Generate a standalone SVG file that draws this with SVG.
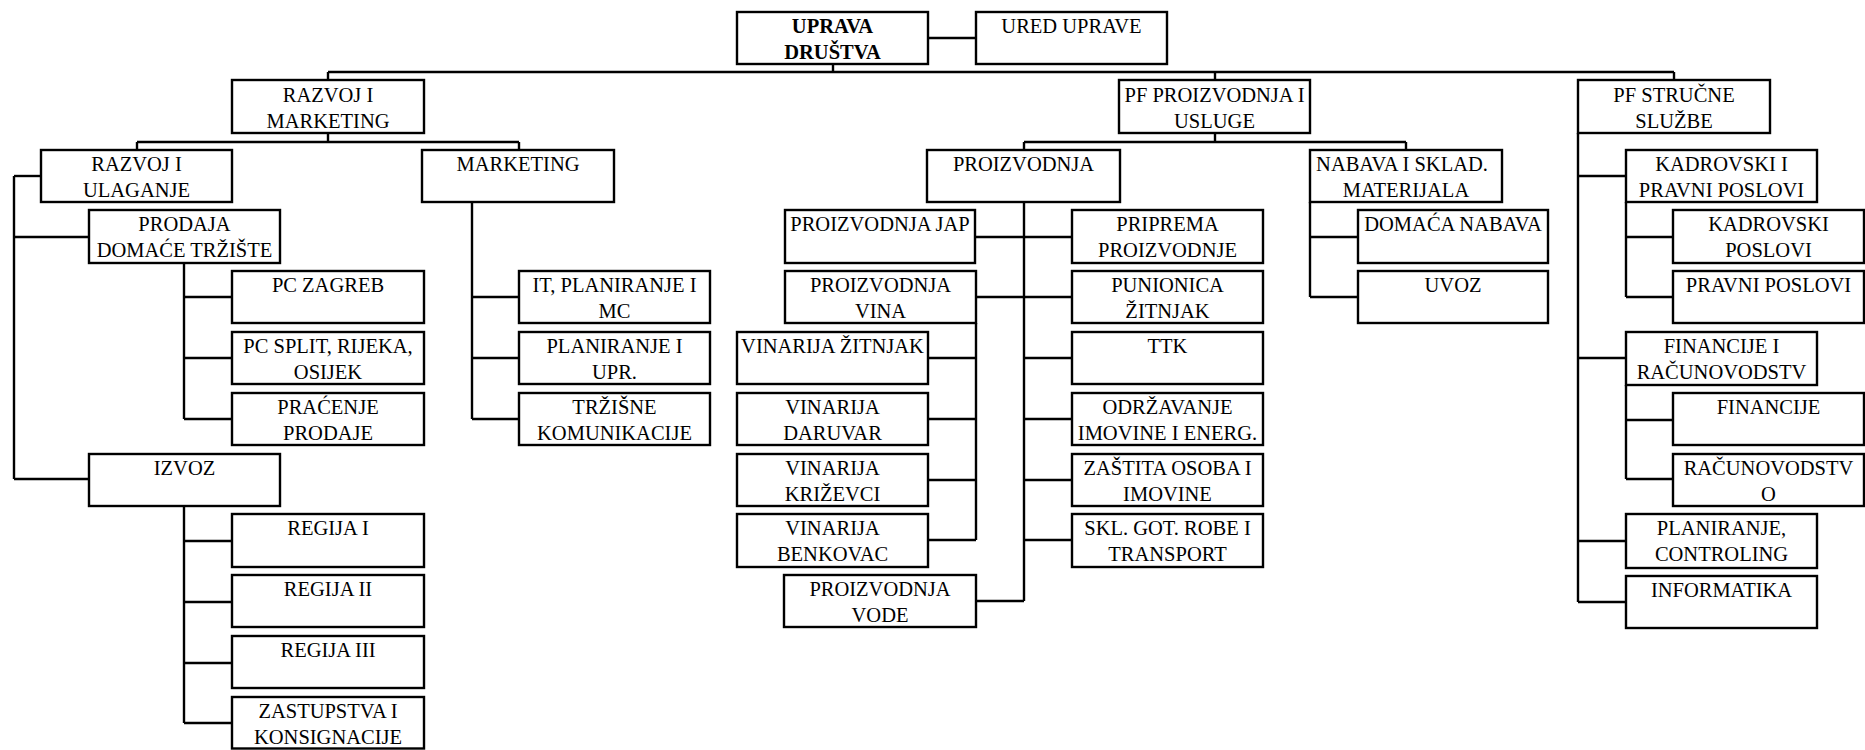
<svg xmlns="http://www.w3.org/2000/svg" width="1865" height="750" viewBox="0 0 1865 750">
<style>
.b{fill:#fff;stroke:#000;stroke-width:2.4}
.t{font-family:"Liberation Serif","Times New Roman",serif;font-size:20.5px;fill:#000;text-anchor:middle}
.bold{font-weight:bold}
.c line{stroke:#000;stroke-width:2.4}
</style>
<rect width="1865" height="750" fill="#fff"/>
<g class="c" id="connectors">
<line x1="328" y1="72" x2="1674" y2="72"/>
<line x1="328" y1="72" x2="328" y2="80"/>
<line x1="833" y1="64" x2="833" y2="72"/>
<line x1="1215" y1="72" x2="1215" y2="80"/>
<line x1="1674" y1="72" x2="1674" y2="80"/>
<line x1="928" y1="38" x2="976" y2="38"/>
<line x1="328" y1="133" x2="328" y2="142"/>
<line x1="137" y1="142" x2="519" y2="142"/>
<line x1="137" y1="142" x2="137" y2="150"/>
<line x1="519" y1="142" x2="519" y2="150"/>
<line x1="14" y1="176" x2="41" y2="176"/>
<line x1="14" y1="176" x2="14" y2="479"/>
<line x1="14" y1="237" x2="89" y2="237"/>
<line x1="14" y1="479" x2="89" y2="479"/>
<line x1="184" y1="263" x2="184" y2="419"/>
<line x1="184" y1="297" x2="232" y2="297"/>
<line x1="184" y1="358" x2="232" y2="358"/>
<line x1="184" y1="419" x2="232" y2="419"/>
<line x1="184" y1="506" x2="184" y2="723"/>
<line x1="184" y1="541" x2="232" y2="541"/>
<line x1="184" y1="602" x2="232" y2="602"/>
<line x1="184" y1="663" x2="232" y2="663"/>
<line x1="184" y1="723" x2="232" y2="723"/>
<line x1="472" y1="202" x2="472" y2="419"/>
<line x1="472" y1="297" x2="519" y2="297"/>
<line x1="472" y1="358" x2="519" y2="358"/>
<line x1="472" y1="419" x2="519" y2="419"/>
<line x1="1215" y1="133" x2="1215" y2="142"/>
<line x1="1024" y1="142" x2="1406" y2="142"/>
<line x1="1024" y1="142" x2="1024" y2="150"/>
<line x1="1406" y1="142" x2="1406" y2="150"/>
<line x1="1024" y1="202" x2="1024" y2="601"/>
<line x1="975" y1="237" x2="1072" y2="237"/>
<line x1="976" y1="297" x2="1072" y2="297"/>
<line x1="1024" y1="358" x2="1072" y2="358"/>
<line x1="1024" y1="419" x2="1072" y2="419"/>
<line x1="1024" y1="480" x2="1072" y2="480"/>
<line x1="1024" y1="540" x2="1072" y2="540"/>
<line x1="976" y1="601" x2="1024" y2="601"/>
<line x1="976" y1="323" x2="976" y2="540"/>
<line x1="928" y1="358" x2="976" y2="358"/>
<line x1="928" y1="419" x2="976" y2="419"/>
<line x1="928" y1="480" x2="976" y2="480"/>
<line x1="928" y1="540" x2="976" y2="540"/>
<line x1="1310" y1="202" x2="1310" y2="297"/>
<line x1="1310" y1="237" x2="1358" y2="237"/>
<line x1="1310" y1="297" x2="1358" y2="297"/>
<line x1="1578" y1="133" x2="1578" y2="602"/>
<line x1="1578" y1="176" x2="1626" y2="176"/>
<line x1="1578" y1="358" x2="1626" y2="358"/>
<line x1="1578" y1="541" x2="1626" y2="541"/>
<line x1="1578" y1="602" x2="1626" y2="602"/>
<line x1="1626" y1="202" x2="1626" y2="297"/>
<line x1="1626" y1="237" x2="1673" y2="237"/>
<line x1="1626" y1="297" x2="1673" y2="297"/>
<line x1="1626" y1="385" x2="1626" y2="479"/>
<line x1="1626" y1="420" x2="1673" y2="420"/>
<line x1="1626" y1="479" x2="1673" y2="479"/>
</g>
<g id="uprava"><rect class="b" x="737" y="12" width="191" height="52"/><text class="t bold" x="832.5" y="33">UPRAVA</text><text class="t bold" x="832.5" y="59">DRUŠTVA</text></g>
<g id="ured"><rect class="b" x="976" y="12" width="191" height="52"/><text class="t" x="1071.5" y="33">URED UPRAVE</text></g>
<g id="razvoj-marketing"><rect class="b" x="232" y="80" width="192" height="53"/><text class="t" x="328" y="101.5">RAZVOJ I</text><text class="t" x="328" y="127.5">MARKETING</text></g>
<g id="pf-proizvodnja"><rect class="b" x="1119" y="80" width="191" height="53"/><text class="t" x="1214.5" y="101.5">PF PROIZVODNJA I</text><text class="t" x="1214.5" y="127.5">USLUGE</text></g>
<g id="pf-strucne"><rect class="b" x="1578" y="80" width="192" height="53"/><text class="t" x="1674" y="101.5">PF STRUČNE</text><text class="t" x="1674" y="127.5">SLUŽBE</text></g>
<g id="razvoj-ulaganje"><rect class="b" x="41" y="150" width="191" height="52"/><text class="t" x="136.5" y="171">RAZVOJ I</text><text class="t" x="136.5" y="196.5">ULAGANJE</text></g>
<g id="marketing"><rect class="b" x="422" y="150" width="192" height="52"/><text class="t" x="518" y="171">MARKETING</text></g>
<g id="proizvodnja"><rect class="b" x="927" y="150" width="193" height="52"/><text class="t" x="1023.5" y="171">PROIZVODNJA</text></g>
<g id="nabava"><rect class="b" x="1310" y="150" width="192" height="52"/><text class="t" x="1402" y="171">NABAVA I SKLAD.</text><text class="t" x="1406" y="196.5">MATERIJALA</text></g>
<g id="kadrovski-pravni"><rect class="b" x="1626" y="150" width="191" height="52"/><text class="t" x="1721.5" y="171">KADROVSKI I</text><text class="t" x="1721.5" y="196.5">PRAVNI POSLOVI</text></g>
<g id="prodaja"><rect class="b" x="89" y="210" width="191" height="53"/><text class="t" x="184.5" y="231">PRODAJA</text><text class="t" x="184.5" y="256.5">DOMAĆE TRŽIŠTE</text></g>
<g id="proizvodnja-jap"><rect class="b" x="785" y="210" width="190" height="53"/><text class="t" x="880" y="231">PROIZVODNJA JAP</text></g>
<g id="priprema"><rect class="b" x="1072" y="210" width="191" height="53"/><text class="t" x="1167.5" y="231">PRIPREMA</text><text class="t" x="1167.5" y="256.5">PROIZVODNJE</text></g>
<g id="domaca-nabava"><rect class="b" x="1358" y="210" width="190" height="53"/><text class="t" x="1453" y="231">DOMAĆA NABAVA</text></g>
<g id="kadrovski"><rect class="b" x="1673" y="210" width="191" height="53"/><text class="t" x="1768.5" y="231">KADROVSKI</text><text class="t" x="1768.5" y="256.5">POSLOVI</text></g>
<g id="pc-zagreb"><rect class="b" x="232" y="271" width="192" height="52"/><text class="t" x="328" y="292">PC ZAGREB</text></g>
<g id="it-planiranje"><rect class="b" x="519" y="271" width="191" height="52"/><text class="t" x="614.5" y="292">IT, PLANIRANJE I</text><text class="t" x="614.5" y="317.5">MC</text></g>
<g id="proizvodnja-vina"><rect class="b" x="785" y="271" width="191" height="52"/><text class="t" x="880.5" y="292">PROIZVODNJA</text><text class="t" x="880.5" y="317.5">VINA</text></g>
<g id="punionica"><rect class="b" x="1072" y="271" width="191" height="52"/><text class="t" x="1167.5" y="292">PUNIONICA</text><text class="t" x="1167.5" y="317.5">ŽITNJAK</text></g>
<g id="uvoz"><rect class="b" x="1358" y="271" width="190" height="52"/><text class="t" x="1453" y="292">UVOZ</text></g>
<g id="pravni"><rect class="b" x="1673" y="271" width="191" height="52"/><text class="t" x="1768.5" y="292">PRAVNI POSLOVI</text></g>
<g id="pc-split"><rect class="b" x="232" y="332" width="192" height="52"/><text class="t" x="328" y="353">PC SPLIT, RIJEKA,</text><text class="t" x="328" y="378.5">OSIJEK</text></g>
<g id="planiranje-upr"><rect class="b" x="519" y="332" width="191" height="52"/><text class="t" x="614.5" y="353">PLANIRANJE I</text><text class="t" x="614.5" y="378.5">UPR.</text></g>
<g id="vinarija-zitnjak"><rect class="b" x="737" y="332" width="191" height="52"/><text class="t" x="832.5" y="353">VINARIJA ŽITNJAK</text></g>
<g id="ttk"><rect class="b" x="1072" y="332" width="191" height="52"/><text class="t" x="1167.5" y="353">TTK</text></g>
<g id="financije-racun"><rect class="b" x="1626" y="332" width="191" height="53"/><text class="t" x="1721.5" y="353">FINANCIJE I</text><text class="t" x="1721.5" y="378.5">RAČUNOVODSTV</text></g>
<g id="pracenje"><rect class="b" x="232" y="393" width="192" height="52"/><text class="t" x="328" y="414">PRAĆENJE</text><text class="t" x="328" y="439.5">PRODAJE</text></g>
<g id="trzisne"><rect class="b" x="519" y="393" width="191" height="52"/><text class="t" x="614.5" y="414">TRŽIŠNE</text><text class="t" x="614.5" y="439.5">KOMUNIKACIJE</text></g>
<g id="vinarija-daruvar"><rect class="b" x="737" y="393" width="191" height="52"/><text class="t" x="832.5" y="414">VINARIJA</text><text class="t" x="832.5" y="439.5">DARUVAR</text></g>
<g id="odrzavanje"><rect class="b" x="1072" y="393" width="191" height="52"/><text class="t" x="1167.5" y="414">ODRŽAVANJE</text><text class="t" x="1167.5" y="439.5">IMOVINE I ENERG.</text></g>
<g id="financije"><rect class="b" x="1673" y="393" width="191" height="52"/><text class="t" x="1768.5" y="414">FINANCIJE</text></g>
<g id="izvoz"><rect class="b" x="89" y="454" width="191" height="52"/><text class="t" x="184.5" y="475">IZVOZ</text></g>
<g id="vinarija-krizevci"><rect class="b" x="737" y="454" width="191" height="52"/><text class="t" x="832.5" y="475">VINARIJA</text><text class="t" x="832.5" y="500.5">KRIŽEVCI</text></g>
<g id="zastita"><rect class="b" x="1072" y="454" width="191" height="52"/><text class="t" x="1167.5" y="475">ZAŠTITA OSOBA I</text><text class="t" x="1167.5" y="500.5">IMOVINE</text></g>
<g id="racunovodstvo"><rect class="b" x="1673" y="454" width="191" height="52"/><text class="t" x="1768.5" y="475">RAČUNOVODSTV</text><text class="t" x="1768.5" y="500.5">O</text></g>
<g id="regija1"><rect class="b" x="232" y="514" width="192" height="53"/><text class="t" x="328" y="535">REGIJA I</text></g>
<g id="vinarija-benkovac"><rect class="b" x="737" y="514" width="191" height="53"/><text class="t" x="832.5" y="535">VINARIJA</text><text class="t" x="832.5" y="560.5">BENKOVAC</text></g>
<g id="skl-got"><rect class="b" x="1072" y="514" width="191" height="53"/><text class="t" x="1167.5" y="535">SKL. GOT. ROBE I</text><text class="t" x="1167.5" y="560.5">TRANSPORT</text></g>
<g id="planiranje-controling"><rect class="b" x="1626" y="514" width="191" height="54"/><text class="t" x="1721.5" y="535">PLANIRANJE,</text><text class="t" x="1721.5" y="560.5">CONTROLING</text></g>
<g id="regija2"><rect class="b" x="232" y="575" width="192" height="52"/><text class="t" x="328" y="596">REGIJA II</text></g>
<g id="proizvodnja-vode"><rect class="b" x="784" y="575" width="192" height="52"/><text class="t" x="880" y="596">PROIZVODNJA</text><text class="t" x="880" y="621.5">VODE</text></g>
<g id="informatika"><rect class="b" x="1626" y="576" width="191" height="52"/><text class="t" x="1721.5" y="597">INFORMATIKA</text></g>
<g id="regija3"><rect class="b" x="232" y="636" width="192" height="52"/><text class="t" x="328" y="657">REGIJA III</text></g>
<g id="zastupstva"><rect class="b" x="232" y="697" width="192" height="51.5"/><text class="t" x="328" y="718">ZASTUPSTVA I</text><text class="t" x="328" y="743.5">KONSIGNACIJE</text></g>
</svg>
